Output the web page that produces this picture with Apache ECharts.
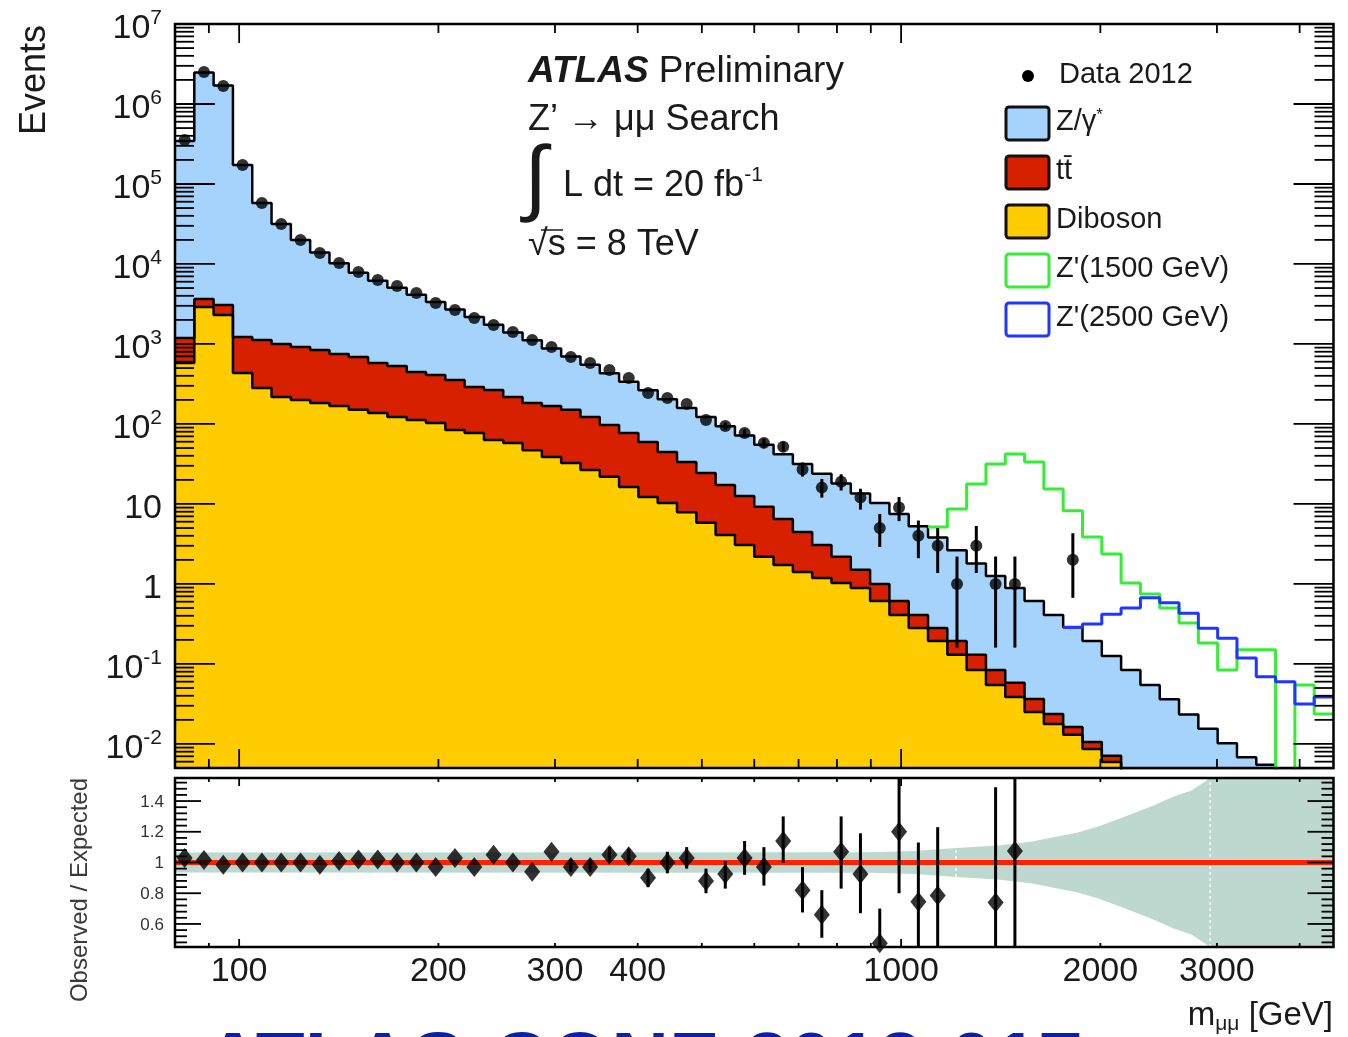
<!DOCTYPE html>
<html>
<head>
<meta charset="utf-8">
<title>Z' → μμ search: dimuon invariant mass</title>
<script src="https://cdn.jsdelivr.net/npm/echarts@6.0.0/dist/echarts.min.js"></script>
<style>
  html, body { margin: 0; padding: 0; background: #ffffff; }
  #chart { width: 1348px; height: 1037px; }
</style>
</head>
<body>
<div id="chart"></div>
<script>
// ---------- binning: 60 bins of equal width in log(m), 80 GeV to 4500 GeV ----------
const M_LOW = 80;
const M_HIGH = 4500;
const N_BINS = 60;
const binEdges = Array.from({ length: N_BINS + 1 },
  (_, i) => M_LOW * Math.pow(M_HIGH / M_LOW, i / N_BINS));

// ---------- observed events per bin (null = no events) ----------
const dataEvents = [
  355000, 2510000, 1680000, 172800, 57900, 31600, 20000, 13700, 10300, 7940,
  6310, 5310, 4340, 3250, 2660, 2110, 1730, 1410, 1120, 917,
  688, 579, 473, 376, 244, 211, 178, 112, 94, 77,
  58, 52, 27, 16, 19, 12, 5, 9, 4, 3,
  1, 3, 1, 1, null, null, 2, null, null, null,
  null, null, null, null, null, null, null, null, null, null
];
// [bin, low, high] of the data error bars
const dataErrBars = [
  [28, 84.5, 104], [29, 68, 86], [30, 50.5, 65.5], [31, 45, 59.5], [32, 22, 33],
  [33, 12, 20.5], [34, 14.7, 23.5], [35, 8.5, 15.5], [36, 2.9, 7.5], [37, 6.1, 12.2],
  [38, 2.1, 6.2], [39, 1.37, 5.0], [40, 0.16, 2.2], [41, 1.37, 5.3], [42, 0.16, 2.2],
  [43, 0.16, 2.2], [46, 0.67, 4.3]
];

// ---------- stacked expectation (cumulative tops) ----------
// Z/γ* + tt̄ + diboson
const totalBkg = [
  345000, 2470000, 1700000, 173000, 57900, 31600, 20000, 13900, 10200, 7790,
  6190, 5060, 4120, 3340, 2700, 2170, 1740, 1390, 1110, 880,
  696, 549, 431, 337, 263, 204, 158, 122, 93.8, 71.9,
  54.9, 41.7, 31.6, 23.9, 18.0, 13.5, 10.3, 7.5, 5.25, 3.8,
  2.63, 1.80, 1.26, 0.89, 0.613, 0.41, 0.288, 0.194, 0.126, 0.084,
  0.0546, 0.0363, 0.0234, 0.0155, 0.0102, 0.0068, 0.0055, 0.0040, 0.0028, 0.0020
];
// tt̄ + diboson
const ttbarPlusDiboson = [
  1190, 3650, 3070, 1220, 1120, 1000, 917, 841, 750, 688,
  579, 531, 447, 410, 355, 290, 266, 218, 183, 168,
  150, 122, 97, 77, 59.6, 44.7, 33.5, 24.4, 17.3, 12.6,
  9.2, 6.5, 4.47, 3.07, 2.18, 1.50, 1.0, 0.613, 0.41, 0.282,
  0.194, 0.130, 0.084, 0.058, 0.0365, 0.0237, 0.0163, 0.0106, 0.0071, 0.0041,
  0.0028, 0.0019, 0.0013, 0.0009, 0.0006, 0.0004, 0.0003, 0.0002, 0.00015, 0.0001
];
// diboson
const diboson = [
  579, 2900, 2300, 434, 282, 218, 200, 183, 168, 150,
  137, 122, 112, 103, 84, 77, 63, 58, 47, 38.7,
  32.6, 26.6, 21.8, 16.3, 12.2, 10.3, 7.9, 5.8, 4.1, 3.07,
  2.18, 1.73, 1.41, 1.19, 1.03, 0.89, 0.613, 0.41, 0.282, 0.194,
  0.130, 0.084, 0.0546, 0.0387, 0.0251, 0.0178, 0.0130, 0.00866, 0.00596, 0.0035,
  0.0022, 0.0015, 0.001, 0.0007, 0.0005, 0.0003, 0.0002, 0.00015, 0.0001, 0.00007
];

// ---------- expectation including a Z' signal (starting bin + values) ----------
const zPrime1500FirstBin = 39;
const zPrime1500 = [
  5.16, 8.66, 17.8, 31.6, 42.2, 33.5, 15.4, 8.2, 3.87, 2.37,
  1.03, 0.75, 0.50, 0.325, 0.183, 0.084, 0.15, 0.15, 0.0001, 0.0546, 0.0237
];
const zPrime2500FirstBin = 46;
const zPrime2500 = [
  0.288, 0.316, 0.417, 0.5, 0.67, 0.58, 0.43, 0.28, 0.21, 0.119,
  0.069, 0.06, 0.0316, 0.0387
];

// ---------- observed / expected ----------
const ratioValues = [
  1.03, 1.016, 0.985, 1.0, 1.0, 1.0, 1.0, 0.985, 1.01, 1.02,
  1.02, 1.0, 1.0, 0.97, 1.03, 0.97, 1.05, 1.0, 0.94, 1.07,
  0.97, 0.97, 1.05, 1.04, 0.90, 1.0, 1.03, 0.88, 0.925, 1.03,
  0.97, 1.14, 0.82, 0.66, 1.07, 0.925, 0.475, 1.2, 0.745, 0.785,
  null, null, 0.74, 1.075, null, null, null, null, null, null,
  null, null, null, null, null, null, null, null, null, null
];
// [bin, low, high]
const ratioErrBars = [
  [20, 0.94, 1.02], [21, 0.94, 1.02], [22, 1.0, 1.1], [23, 0.99, 1.09], [24, 0.84, 0.96],
  [25, 0.93, 1.07], [26, 0.96, 1.1], [27, 0.80, 0.96], [28, 0.83, 1.01], [29, 0.92, 1.14],
  [30, 0.85, 1.1], [31, 1.0, 1.3], [32, 0.675, 0.97], [33, 0.51, 0.82], [34, 0.83, 1.3],
  [35, 0.67, 1.19], [36, 0.2, 0.70], [37, 0.8, 1.6], [38, 0.4, 1.13], [39, 0.36, 1.23],
  [42, 0.12, 1.49], [43, 0.15, 2.4]
];
// systematic uncertainty band: half width around 1 versus mass
const bandMass      = [80, 900, 1050, 1210, 1400, 1570, 1850, 2000, 2180, 2400, 2580, 2750, 2930, 4500];
const bandHalfWidth = [0.065, 0.066, 0.075, 0.094, 0.11, 0.135, 0.195, 0.24, 0.30, 0.37, 0.43, 0.47, 0.56, 0.6];
const bandBreaks = [[1210, 0.905, 1.095], [2930, 0.45, 1.55]];

// ---------- axes ----------
const Y_MIN = 0.005, Y_MAX = 1e7;
const R_MIN = 0.45, R_MAX = 1.55;
const xTickLabels = [100, 200, 300, 400, 1000, 2000, 3000];
const xMajorTicks = [100, 1000];
const xMinorTicks = [90, 200, 300, 400, 500, 600, 700, 800, 900, 2000, 3000, 4000];
const yDecades = [-2, -1, 0, 1, 2, 3, 4, 5, 6, 7];
const ratioTickLabels = [0.6, 0.8, 1, 1.2, 1.4];

// ---------- look ----------
const FONT = '"Liberation Sans", Arial, Helvetica, sans-serif';
const TXT = '#1a1a1a';
const BLUE_FILL = '#a6d3fc';
const RED_FILL = '#d62000';
const YELLOW_FILL = '#ffcc00';
const GREEN_LINE = '#33ee33';
const BLUE_LINE = '#2035ff';
const BAND_FILL = '#bdd8cf';
const UNIT_LINE = '#ff2200';

// ---------- helpers ----------
const binCenter = i => Math.sqrt(binEdges[i] * binEdges[i + 1]);

function stepData(values, firstBin) {
  const pts = values.map((v, k) => [binEdges[firstBin + k], v]);
  const last = firstBin + values.length - 1;
  pts.push([binEdges[last + 1], values[values.length - 1]]);
  return pts;
}

function histSeries(values, fill) {
  return {
    type: 'line', xAxisIndex: 0, yAxisIndex: 0, step: 'end', symbol: 'none',
    silent: true, animation: false, clip: true,
    data: stepData(values, 0),
    lineStyle: { color: '#000', width: 2.5 },
    areaStyle: { color: fill, opacity: 1, origin: 'start' }
  };
}

function signalSeries(values, firstBin, color) {
  return {
    type: 'line', xAxisIndex: 0, yAxisIndex: 0, step: 'end', symbol: 'none',
    silent: true, animation: false, clip: true,
    data: stepData(values, firstBin),
    lineStyle: { color: color, width: 3 }
  };
}

function errorBarSeries(gridIdx, items, lo, hi, width) {
  return {
    type: 'custom', xAxisIndex: gridIdx, yAxisIndex: gridIdx, silent: true, animation: false, z: 4,
    data: items,
    renderItem(params, api) {
      const x = api.value(0);
      const a = api.coord([x, Math.max(api.value(2), lo)]);
      const b = api.coord([x, Math.min(api.value(3), hi)]);
      return { type: 'line', shape: { x1: a[0], y1: a[1], x2: b[0], y2: b[1] },
               style: { stroke: '#000', lineWidth: width } };
    }
  };
}

const tickStyle = () => ({ stroke: '#000', lineWidth: 1.8 });

// x ticks on top and bottom edges of a frame
function xTickSeries(gridIdx, ticks) {
  return {
    type: 'custom', xAxisIndex: gridIdx, yAxisIndex: gridIdx, silent: true, animation: false, z: 10,
    data: ticks,
    renderItem(params, api) {
      const cs = params.coordSys;
      const x = api.coord([api.value(0), api.value(1)])[0];
      const len = api.value(2);
      return { type: 'group', children: [
        { type: 'line', shape: { x1: x, y1: cs.y, x2: x, y2: cs.y + len }, style: tickStyle() },
        { type: 'line', shape: { x1: x, y1: cs.y + cs.height, x2: x, y2: cs.y + cs.height - len }, style: tickStyle() }
      ]};
    }
  };
}

// y ticks on left and right edges of a frame
function yTickSeries(gridIdx, ticks) {
  return {
    type: 'custom', xAxisIndex: gridIdx, yAxisIndex: gridIdx, silent: true, animation: false, z: 10,
    data: ticks,
    renderItem(params, api) {
      const cs = params.coordSys;
      const y = api.coord([api.value(0), api.value(1)])[1];
      const len = api.value(2);
      return { type: 'group', children: [
        { type: 'line', shape: { x1: cs.x, y1: y, x2: cs.x + len, y2: y }, style: tickStyle() },
        { type: 'line', shape: { x1: cs.x + cs.width, y1: y, x2: cs.x + cs.width - len, y2: y }, style: tickStyle() }
      ]};
    }
  };
}

function frameSeries(gridIdx, yRef) {
  return {
    type: 'custom', xAxisIndex: gridIdx, yAxisIndex: gridIdx, silent: true, animation: false, z: 11,
    data: [[100, yRef]],
    renderItem(params) {
      const cs = params.coordSys;
      return { type: 'rect', shape: { x: cs.x, y: cs.y, width: cs.width, height: cs.height },
               style: { fill: null, stroke: '#000', lineWidth: 2.5 } };
    }
  };
}

// tick positions
const mainXTicks = xMajorTicks.map(v => [v, 1, 19]).concat(xMinorTicks.map(v => [v, 1, 9]));
const ratioXTicks = xMajorTicks.map(v => [v, 1, 8]).concat(xMinorTicks.map(v => [v, 1, 4]));
const mainYTicks = [];
yDecades.forEach(d => mainYTicks.push([100, Math.pow(10, d), 40]));
for (let d = -3; d <= 6; d++) {
  for (let k = 2; k <= 9; k++) {
    const v = k * Math.pow(10, d);
    if (v > Y_MIN && v < Y_MAX) mainYTicks.push([100, v, 19]);
  }
}
const ratioYTicks = [];
for (let k = 12; k <= 38; k++) {
  const v = Math.round(k * 0.04 * 100) / 100;
  const major = ratioTickLabels.some(t => Math.abs(t - v) < 1e-6);
  ratioYTicks.push([100, v, major ? 26 : 12]);
}

const Y_RICH = {
  b: { fontSize: 34, fontFamily: FONT, fill: TXT },
  s: { fontSize: 21, fontFamily: FONT, fill: TXT, padding: [0, 0, 22, 0] }
};

const series = [
  // stacked expectation, drawn as cumulative fills from the back
  histSeries(totalBkg, BLUE_FILL),
  histSeries(ttbarPlusDiboson, RED_FILL),
  histSeries(diboson, YELLOW_FILL),
  // signal hypotheses
  signalSeries(zPrime1500, zPrime1500FirstBin, GREEN_LINE),
  signalSeries(zPrime2500, zPrime2500FirstBin, BLUE_LINE),
  // data
  errorBarSeries(0, dataErrBars.map(([i, lo, hi]) => [binCenter(i), dataEvents[i], lo, hi]), Y_MIN, Y_MAX, 3),
  {
    type: 'scatter', xAxisIndex: 0, yAxisIndex: 0, silent: true, animation: false, z: 5,
    symbol: 'circle', symbolSize: 12, itemStyle: { color: '#000' },
    data: dataEvents.map((v, i) => v == null ? null : [binCenter(i), v]).filter(Boolean)
  },
  // ratio panel: uncertainty band
  {
    type: 'custom', xAxisIndex: 1, yAxisIndex: 1, silent: true, animation: false, z: 1,
    data: [[bandMass[0], 1]],
    renderItem(params, api) {
      const upper = bandMass.map((m, i) => api.coord([m, Math.min(1 + bandHalfWidth[i], R_MAX)]));
      const lower = bandMass.map((m, i) => api.coord([m, Math.max(1 - bandHalfWidth[i], R_MIN)])).reverse();
      return { type: 'polygon', shape: { points: upper.concat(lower) }, style: { fill: BAND_FILL } };
    }
  },
  {
    type: 'custom', xAxisIndex: 1, yAxisIndex: 1, silent: true, animation: false, z: 1,
    data: bandBreaks,
    renderItem(params, api) {
      const a = api.coord([api.value(0), api.value(1)]);
      const b = api.coord([api.value(0), api.value(2)]);
      return { type: 'line', shape: { x1: a[0], y1: a[1], x2: b[0], y2: b[1] },
               style: { stroke: 'rgba(255,255,255,0.85)', lineWidth: 1.5, lineDash: [3, 3] } };
    }
  },
  {
    type: 'line', xAxisIndex: 1, yAxisIndex: 1, silent: true, animation: false, z: 3,
    symbol: 'none', data: [[M_LOW, 1], [M_HIGH, 1]],
    lineStyle: { color: UNIT_LINE, width: 5 }
  },
  errorBarSeries(1, ratioErrBars.map(([i, lo, hi]) => [binCenter(i), ratioValues[i], lo, hi]), R_MIN, R_MAX, 3),
  {
    type: 'scatter', xAxisIndex: 1, yAxisIndex: 1, silent: true, animation: false, z: 5,
    symbol: 'diamond', symbolSize: [16, 20], itemStyle: { color: '#000' },
    data: ratioValues.map((v, i) => v == null ? null : [binCenter(i), v]).filter(Boolean)
  },
  // ticks, frames, tick labels
  xTickSeries(0, mainXTicks),
  yTickSeries(0, mainYTicks),
  xTickSeries(1, ratioXTicks),
  yTickSeries(1, ratioYTicks),
  frameSeries(0, 1),
  frameSeries(1, 1),
  {
    type: 'custom', xAxisIndex: 0, yAxisIndex: 0, silent: true, animation: false, z: 12,
    data: yDecades.map(d => [100, Math.pow(10, d), d]),
    renderItem(params, api) {
      const cs = params.coordSys;
      const y = api.coord([api.value(0), api.value(1)])[1];
      const d = api.value(2);
      const text = d === 0 ? '{b|1}' : d === 1 ? '{b|10}' : '{b|10}{s|' + d + '}';
      return { type: 'text', x: cs.x - 13, y: y + 5,
               style: { text: text, rich: Y_RICH, align: 'right', verticalAlign: 'middle',
                        fontSize: 34, fontFamily: FONT, fill: TXT } };
    }
  },
  {
    type: 'custom', xAxisIndex: 1, yAxisIndex: 1, silent: true, animation: false, z: 12,
    data: ratioTickLabels.map(v => [100, v]),
    renderItem(params, api) {
      const cs = params.coordSys;
      const v = api.value(1);
      const y = api.coord([api.value(0), v])[1];
      return { type: 'text', x: cs.x - 11, y: y + 1,
               style: { text: String(v), align: 'right', verticalAlign: 'middle',
                        fontSize: 17, fontFamily: FONT, fill: '#333' } };
    }
  },
  {
    type: 'custom', xAxisIndex: 1, yAxisIndex: 1, silent: true, animation: false, z: 12,
    data: xTickLabels.map(v => [v, 1]),
    renderItem(params, api) {
      const cs = params.coordSys;
      const x = api.coord([api.value(0), 1])[0];
      return { type: 'text', x: x, y: cs.y + cs.height + 8,
               style: { text: String(api.value(0)), align: 'center', verticalAlign: 'top',
                        fontSize: 34, fontFamily: FONT, fill: TXT } };
    }
  }
];

const hiddenAxis = {
  axisLine: { show: false }, axisTick: { show: false }, axisLabel: { show: false },
  splitLine: { show: false }, minorTick: { show: false }, minorSplitLine: { show: false }
};

// legend entries: [label rich text, fill, border]
const legendBoxes = [
  ['Z/γ{s|*}', BLUE_FILL, '#111'],
  ['tt\u0304', RED_FILL, '#111'],
  ['Diboson', YELLOW_FILL, '#111'],
  ['Z\'(1500 GeV)', '#ffffff', GREEN_LINE],
  ['Z\'(2500 GeV)', '#ffffff', BLUE_LINE]
];
const LEG_RICH = { s: { fontSize: 17, fontFamily: FONT, fill: TXT, padding: [0, 0, 14, 0] } };

const legendGraphics = [
  { type: 'circle', shape: { cx: 1028, cy: 76, r: 6 }, style: { fill: '#000' } },
  { type: 'text', x: 1059, y: 75, style: { text: 'Data 2012', fontSize: 29, fontFamily: FONT, fill: TXT, align: 'left', verticalAlign: 'middle' } }
];
legendBoxes.forEach(([label, fill, border], k) => {
  const top = 107 + k * 49;
  legendGraphics.push({ type: 'rect', shape: { x: 1006, y: top, width: 43, height: 33, r: 3 },
                        style: { fill: fill, stroke: border, lineWidth: 3 } });
  legendGraphics.push({ type: 'text', x: 1056, y: top + 15,
                        style: { text: label, rich: LEG_RICH, fontSize: 29, fontFamily: FONT, fill: TXT,
                                 align: 'left', verticalAlign: 'middle' } });
});

const labelGraphics = [
  { type: 'text', x: 35, y: 25, rotation: Math.PI / 2,
    style: { text: 'Events', fontSize: 36, fontFamily: FONT, fill: TXT, align: 'right', verticalAlign: 'middle' } },
  { type: 'text', x: 80, y: 778, rotation: Math.PI / 2,
    style: { text: 'Observed / Expected', fontSize: 24, fontFamily: FONT, fill: '#3a3a3a', align: 'right', verticalAlign: 'middle' } },
  { type: 'text', x: 1333, y: 1016,
    style: { text: '{m|m}{s|μμ}{m| [GeV]}', align: 'right', verticalAlign: 'middle', fontSize: 33, fontFamily: FONT, fill: TXT,
             rich: { m: { fontSize: 33, fontFamily: FONT, fill: TXT },
                     s: { fontSize: 21, fontFamily: FONT, fill: TXT, padding: [16, 0, 0, 0] } } } },
  // experiment label block
  { type: 'text', x: 528, y: 72,
    style: { text: '{a|ATLAS}{b| Preliminary}', align: 'left', verticalAlign: 'middle', fontSize: 37, fontFamily: FONT, fill: TXT,
             rich: { a: { fontSize: 37, fontFamily: FONT, fontWeight: 'bold', fontStyle: 'italic', fill: TXT },
                     b: { fontSize: 37, fontFamily: FONT, fill: TXT } } } },
  { type: 'text', x: 528, y: 120,
    style: { text: 'Z’ → μμ Search', align: 'left', verticalAlign: 'middle', fontSize: 36, fontFamily: FONT, fill: TXT } },
  { type: 'text', x: 524, y: 182,
    style: { text: '∫', align: 'left', verticalAlign: 'middle', fontSize: 84, fontFamily: FONT, fill: TXT } },
  { type: 'text', x: 563, y: 186,
    style: { text: '{b|L dt = 20 fb}{s|-1}', align: 'left', verticalAlign: 'middle', fontSize: 36, fontFamily: FONT, fill: TXT,
             rich: { b: { fontSize: 36, fontFamily: FONT, fill: TXT },
                     s: { fontSize: 21, fontFamily: FONT, fill: TXT, padding: [0, 0, 22, 0] } } } },
  { type: 'text', x: 528, y: 245,
    style: { text: '√s = 8 TeV', align: 'left', verticalAlign: 'middle', fontSize: 36, fontFamily: FONT, fill: TXT } },
  { type: 'line', shape: { x1: 541, y1: 230, x2: 563, y2: 230 }, style: { stroke: TXT, lineWidth: 1.5 } },
  // conference note reference along the lower edge
  { type: 'text', x: 204, y: 1066,
    style: { text: 'ATLAS-CONF-2013-017', align: 'left', verticalAlign: 'middle', fontSize: 80, fontWeight: 'bold', fontFamily: FONT, fill: '#0a20a8' } }
];

const chart = echarts.init(document.getElementById('chart'), null, { renderer: 'canvas' });
chart.setOption({
  animation: false,
  backgroundColor: '#ffffff',
  grid: [
    { left: 175, top: 24, width: 1158.5, height: 744, containLabel: false, outerBoundsMode: 'none' },
    { left: 175, top: 778, width: 1158.5, height: 169, containLabel: false, outerBoundsMode: 'none' }
  ],
  xAxis: [
    Object.assign({ type: 'log', logBase: 10, gridIndex: 0, min: M_LOW, max: M_HIGH }, hiddenAxis),
    Object.assign({ type: 'log', logBase: 10, gridIndex: 1, min: M_LOW, max: M_HIGH }, hiddenAxis)
  ],
  yAxis: [
    Object.assign({ type: 'log', logBase: 10, gridIndex: 0, min: Y_MIN, max: Y_MAX }, hiddenAxis),
    Object.assign({ type: 'value', gridIndex: 1, min: R_MIN, max: R_MAX }, hiddenAxis)
  ],
  series: series,
  graphic: { elements: labelGraphics.concat(legendGraphics) }
});
</script>
</body>
</html>
